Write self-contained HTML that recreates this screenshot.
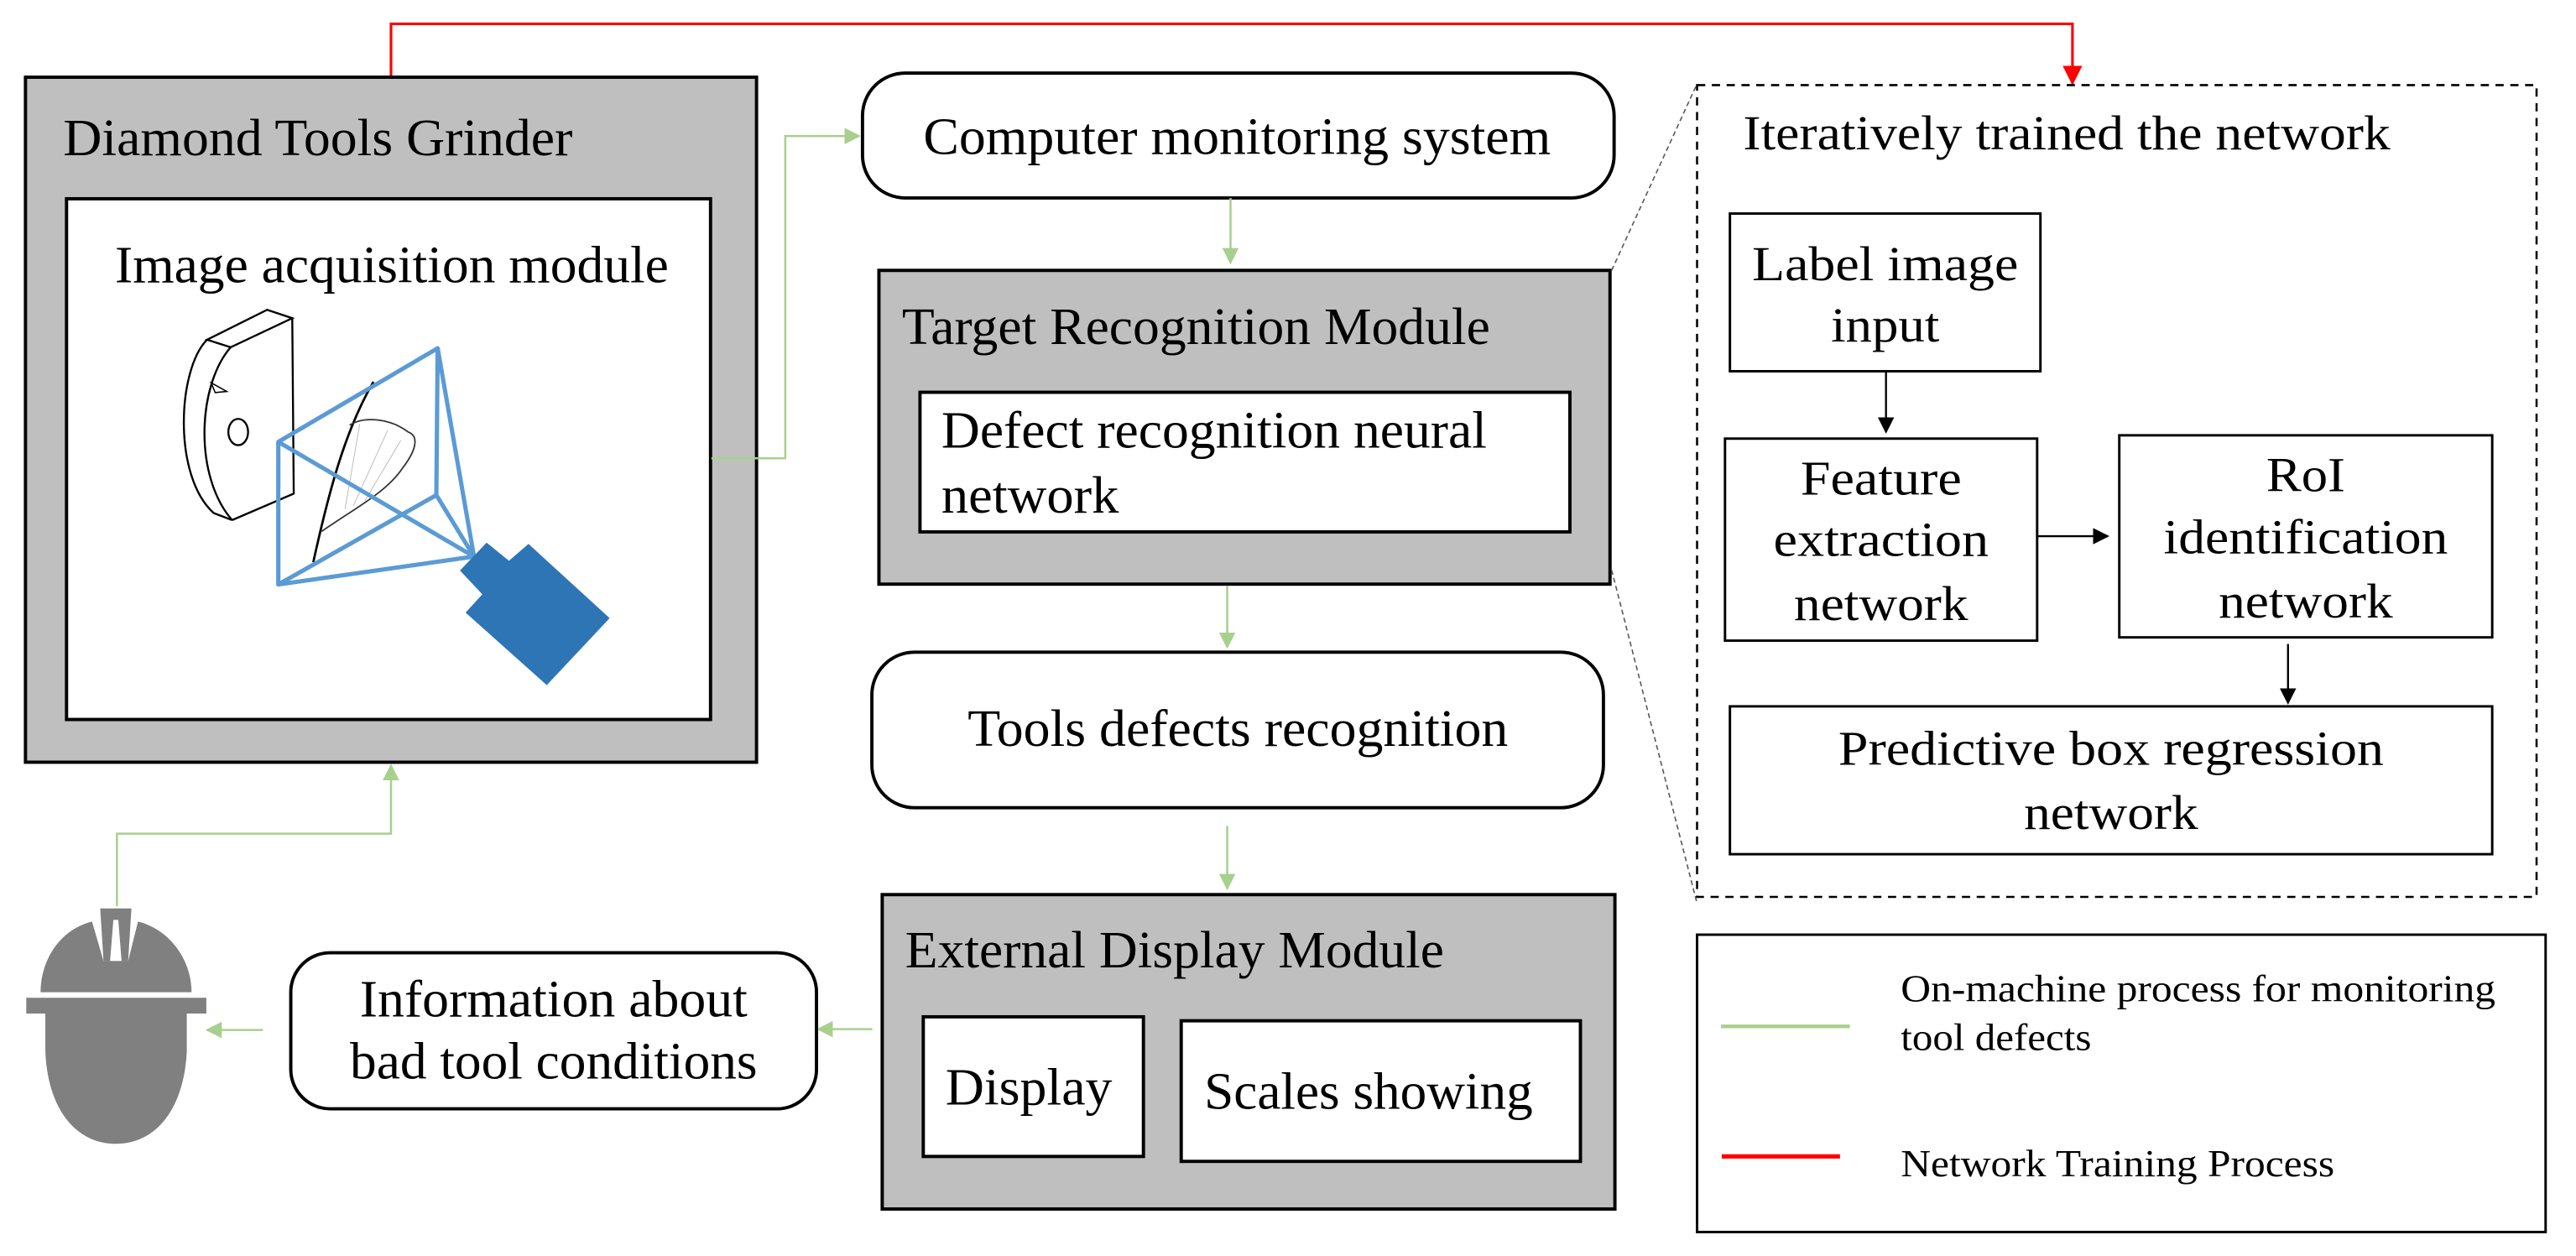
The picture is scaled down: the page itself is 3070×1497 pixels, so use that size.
<!DOCTYPE html>
<html><head><meta charset="utf-8"><style>
html,body{margin:0;padding:0;background:#fff;}
svg{display:block;}
text{font-family:"Liberation Serif","Times New Roman",serif;fill:#000;}
</style></head><body>
<svg width="3070" height="1497" viewBox="0 0 1568 764.6" preserveAspectRatio="none" xmlns="http://www.w3.org/2000/svg">
<defs>
<marker id="ga" markerWidth="10" markerHeight="10" refX="9" refY="5" orient="auto" markerUnits="userSpaceOnUse"><path d="M0,0 L10,5 L0,10 Z" fill="#a8d08d"/></marker>
<marker id="ba" markerWidth="10" markerHeight="10" refX="9" refY="5" orient="auto" markerUnits="userSpaceOnUse"><path d="M0,0 L10,5 L0,10 Z" fill="#000"/></marker>
<marker id="ra" markerWidth="12" markerHeight="12" refX="11" refY="6" orient="auto" markerUnits="userSpaceOnUse"><path d="M0,0 L12,6 L0,12 Z" fill="#ff0000"/></marker>
</defs>

<!-- red training line -->
<polyline points="238,47 238,14.5 1261.5,14.5 1261.5,51" fill="none" stroke="#ff0000" stroke-width="1.6" marker-end="url(#ra)"/>

<!-- Grinder -->
<rect x="15.5" y="47" width="445" height="417" fill="#bfbfbf" stroke="#000" stroke-width="2"/>
<text x="38.5" y="94.5" font-size="32" textLength="310" lengthAdjust="spacingAndGlyphs">Diamond Tools Grinder</text>
<rect x="40.5" y="121" width="392" height="317" fill="#fff" stroke="#000" stroke-width="2"/>
<text x="70" y="172" font-size="32" textLength="337" lengthAdjust="spacingAndGlyphs">Image acquisition module</text>

<!-- wheel piece -->
<g fill="none" stroke="#000" stroke-width="1.2">
<path d="M126,206.8 L162.6,188.6 L177.9,193.7 L140.4,211.4 Z"/>
<path d="M177.9,193.7 L178.8,300.5 L141.3,316.6"/>
<path d="M126,206.8 C108,225 105,290 130.2,312.4 L141.3,316.6"/>
<path d="M140.4,211.4 C120,235 118,290 141.3,316.6"/>
<ellipse cx="145" cy="263" rx="6" ry="8"/>
<path d="M128.5,233 L131,239 L138,238.3 Z" stroke-width="0.8"/>
</g>
<!-- blade -->
<path d="M227.3,232.4 C210,262 200,300 190.7,342.2" fill="none" stroke="#000" stroke-width="1.4"/>
<path d="M195.8,323.5 C215,310 235,300 245,285 C255,272 254,265 248.5,263 C238,255 222,253 212.8,258.8" fill="none" stroke="#333" stroke-width="0.9"/>
<path d="M219,258 L210,310 M236,262 L215,308 M244,268 L222,305" fill="none" stroke="#bbb" stroke-width="0.5"/>
<!-- frustum -->
<g fill="none" stroke="#5b9bd5" stroke-width="2.6" stroke-linejoin="round">
<path d="M169.4,269 L266.4,212 L265.6,301.4 L169.4,355.8 Z"/>
<path d="M169.4,269 L288.5,338.8 M266.4,212 L288.5,338.8 M265.6,301.4 L288.5,338.8 M169.4,355.8 L288.5,338.8"/>
</g>
<!-- camera -->
<polygon points="296.2,330.3 309.8,341.4 321.7,331.1 371.1,376.3 332.8,417.1 283.4,372.9 293.6,361.8 280,347.3" fill="#2e75b6"/>

<!-- green grinder -> computer -->
<polyline points="433,279 478,279 478,82.8 523,82.8" fill="none" stroke="#a8d08d" stroke-width="1.3" marker-end="url(#ga)"/>

<!-- Computer monitoring system -->
<rect x="525" y="44.5" width="457.5" height="76" rx="26" fill="#fff" stroke="#000" stroke-width="2"/>
<text x="562" y="93.7" font-size="32" textLength="382" lengthAdjust="spacingAndGlyphs">Computer monitoring system</text>
<line x1="749" y1="120.6" x2="749" y2="160" stroke="#a8d08d" stroke-width="1.3" marker-end="url(#ga)"/>

<!-- Target Recognition Module -->
<rect x="535" y="164.6" width="445" height="191" fill="#bfbfbf" stroke="#000" stroke-width="2"/>
<text x="549" y="209.5" font-size="32" textLength="358" lengthAdjust="spacingAndGlyphs">Target Recognition Module</text>
<rect x="560" y="238.8" width="395.6" height="85" fill="#fff" stroke="#000" stroke-width="2"/>
<text x="573" y="272.5" font-size="32" textLength="332" lengthAdjust="spacingAndGlyphs">Defect recognition neural</text>
<text x="573" y="312" font-size="32" textLength="108" lengthAdjust="spacingAndGlyphs">network</text>
<line x1="747" y1="356.6" x2="747" y2="394" stroke="#a8d08d" stroke-width="1.3" marker-end="url(#ga)"/>

<!-- Tools defects recognition -->
<rect x="530.7" y="397" width="445.3" height="94.7" rx="26" fill="#fff" stroke="#000" stroke-width="2"/>
<text x="589" y="454" font-size="32" textLength="329" lengthAdjust="spacingAndGlyphs">Tools defects recognition</text>
<line x1="747" y1="502.8" x2="747" y2="541" stroke="#a8d08d" stroke-width="1.3" marker-end="url(#ga)"/>

<!-- External Display Module -->
<rect x="537" y="544.6" width="446" height="191.4" fill="#bfbfbf" stroke="#000" stroke-width="2"/>
<text x="551" y="588.9" font-size="32" textLength="328" lengthAdjust="spacingAndGlyphs">External Display Module</text>
<rect x="562" y="619" width="134" height="85" fill="#fff" stroke="#000" stroke-width="2"/>
<text x="575.5" y="672.5" font-size="32" textLength="101.5" lengthAdjust="spacingAndGlyphs">Display</text>
<rect x="719" y="621.4" width="243" height="85.6" fill="#fff" stroke="#000" stroke-width="2"/>
<text x="733" y="675" font-size="32" textLength="200" lengthAdjust="spacingAndGlyphs">Scales showing</text>

<!-- ext -> info -->
<line x1="531" y1="626.5" x2="498" y2="626.5" stroke="#a8d08d" stroke-width="1.3" marker-end="url(#ga)"/>
<!-- Info box -->
<rect x="177" y="580" width="320" height="95" rx="24" fill="#fff" stroke="#000" stroke-width="2"/>
<text x="337" y="618.7" font-size="32" text-anchor="middle" textLength="236" lengthAdjust="spacingAndGlyphs">Information about</text>
<text x="337" y="656.7" font-size="32" text-anchor="middle" textLength="248" lengthAdjust="spacingAndGlyphs">bad tool conditions</text>
<line x1="160" y1="627" x2="126" y2="627" stroke="#a8d08d" stroke-width="1.3" marker-end="url(#ga)"/>

<!-- helmet -->
<g fill="#808080">
<path d="M61,553 L80,553 L78,585 L74,585 L72,560 L69,560 L67,585 L63,585 Z"/>
<path d="M24.7,604 C24.7,585 36,566 56,561 L63,585 L78,585 L84,561 C104,566 116.6,585 116.6,604 Z"/>
<rect x="16" y="607.4" width="109.6" height="9.6"/>
<path d="M27.6,617 L113.7,617 L113.7,640 C112,675 95,696.3 70.5,696.3 C46,696.3 29,675 27.6,640 Z"/>
</g>
<!-- helmet -> grinder -->
<polyline points="71.2,551.6 71.2,507.5 238,507.5 238,466" fill="none" stroke="#a8d08d" stroke-width="1.3" marker-end="url(#ga)"/>

<!-- zoom dashed lines -->
<line x1="981" y1="164.6" x2="1033" y2="51" stroke="#555" stroke-width="0.8" stroke-dasharray="3,2"/>
<line x1="981" y1="347" x2="1033" y2="550" stroke="#555" stroke-width="0.8" stroke-dasharray="3,2"/>

<!-- dashed panel -->
<rect x="1033" y="51.8" width="511" height="494.2" fill="none" stroke="#000" stroke-width="1.3" stroke-dasharray="5,4"/>
<text x="1061" y="91" font-size="30" textLength="394" lengthAdjust="spacingAndGlyphs">Iteratively trained the network</text>

<rect x="1053" y="130" width="189" height="96" fill="#fff" stroke="#000" stroke-width="1.5"/>
<text x="1147.5" y="170.7" font-size="30" text-anchor="middle" textLength="162" lengthAdjust="spacingAndGlyphs">Label image</text>
<text x="1147.5" y="208" font-size="30" text-anchor="middle" textLength="66" lengthAdjust="spacingAndGlyphs">input</text>
<line x1="1148" y1="226" x2="1148" y2="263" stroke="#000" stroke-width="1.2" marker-end="url(#ba)"/>

<rect x="1050" y="267" width="190" height="123" fill="#fff" stroke="#000" stroke-width="1.5"/>
<text x="1145" y="301" font-size="30" text-anchor="middle" textLength="98" lengthAdjust="spacingAndGlyphs">Feature</text>
<text x="1145" y="338.5" font-size="30" text-anchor="middle" textLength="131" lengthAdjust="spacingAndGlyphs">extraction</text>
<text x="1145" y="377.5" font-size="30" text-anchor="middle" textLength="106" lengthAdjust="spacingAndGlyphs">network</text>
<line x1="1240" y1="326.4" x2="1283" y2="326.4" stroke="#000" stroke-width="1.2" marker-end="url(#ba)"/>

<rect x="1290" y="265" width="227" height="123" fill="#fff" stroke="#000" stroke-width="1.5"/>
<text x="1403.5" y="299" font-size="30" text-anchor="middle" textLength="48" lengthAdjust="spacingAndGlyphs">RoI</text>
<text x="1403.5" y="336.8" font-size="30" text-anchor="middle" textLength="173" lengthAdjust="spacingAndGlyphs">identification</text>
<text x="1403.5" y="376" font-size="30" text-anchor="middle" textLength="106" lengthAdjust="spacingAndGlyphs">network</text>
<line x1="1392.7" y1="392" x2="1392.7" y2="428" stroke="#000" stroke-width="1.2" marker-end="url(#ba)"/>

<rect x="1053" y="430" width="464" height="90" fill="#fff" stroke="#000" stroke-width="1.5"/>
<text x="1285" y="465.5" font-size="30" text-anchor="middle" textLength="332" lengthAdjust="spacingAndGlyphs">Predictive box regression</text>
<text x="1285" y="504.6" font-size="30" text-anchor="middle" textLength="106" lengthAdjust="spacingAndGlyphs">network</text>

<!-- legend -->
<rect x="1033" y="569" width="516.5" height="181" fill="#fff" stroke="#000" stroke-width="1.5"/>
<line x1="1047.6" y1="624.8" x2="1126" y2="624.8" stroke="#a8d08d" stroke-width="2.2"/>
<text x="1157" y="609.5" font-size="23" textLength="362" lengthAdjust="spacingAndGlyphs">On-machine process for monitoring</text>
<text x="1157" y="639.3" font-size="23" textLength="116" lengthAdjust="spacingAndGlyphs">tool defects</text>
<line x1="1048" y1="704" x2="1120" y2="704" stroke="#ff0000" stroke-width="2.6"/>
<text x="1157" y="716" font-size="23" textLength="264" lengthAdjust="spacingAndGlyphs">Network Training Process</text>
</svg>
</body></html>
